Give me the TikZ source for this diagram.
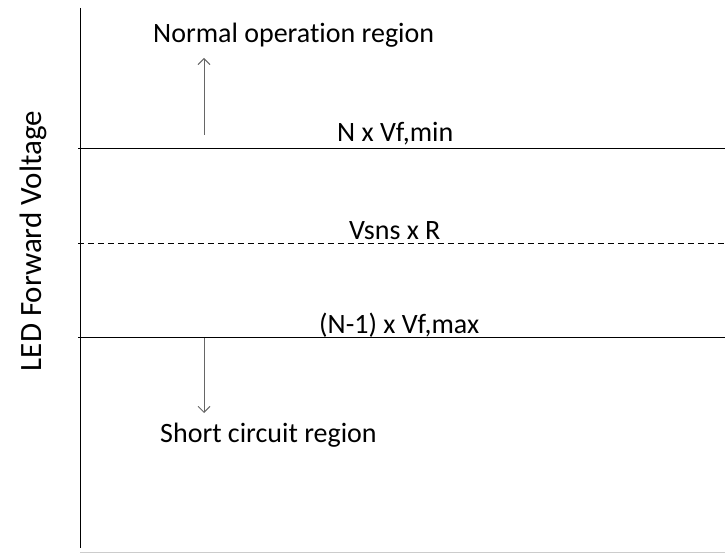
\documentclass[tikz,border=0pt]{standalone}
\usepackage{fontspec}
\setmainfont{Carlito}[Ligatures=NoCommon]
\usetikzlibrary{arrows.meta}
\begin{document}
\begin{tikzpicture}[x=1pt,y=-1pt,
  lvl/.style={line width=0.9pt,black},
  lbl/.style={inner sep=0pt,anchor=base west,font=\fontsize{28}{30}\selectfont},
  arr/.style={draw=gray!80!black,line width=0.9pt,-{Straight Barb[length=6pt,width=12pt]}}]
\useasboundingbox (0,0) rectangle (725,553);
\draw[line width=0.9pt] (80,8) -- (80,548);
\draw[gray!40,line width=0.9pt] (80,552) -- (725,552);
\coordinate (t1) at (78,148); \coordinate (t2) at (725,148);
\coordinate (d1) at (78,243); \coordinate (d2) at (725,243);
\coordinate (b1) at (78,337); \coordinate (b2) at (725,337);
\draw[lvl] (t1) -- (t2);
\draw[lvl,dash pattern=on 6pt off 4pt] (d1) -- (d2);
\draw[lvl] (b1) -- (b2);
\node[lbl] (nor) at (153,43) {Normal operation region};
\node[lbl] (sc) at (160,442) {Short circuit region};
\node[lbl] (nv) at (337,142) {N x Vf,min};
\node[lbl] (vs) at (349,240) {Vsns x R};
\node[lbl] (nm) at (319,333) {(N-1) x Vf,max};
\node[inner sep=0pt,font=\fontsize{31}{33}\selectfont,rotate=90] (ax) at (33,241) {LED Forward Voltage};
\coordinate (ua) at (204,135); \coordinate (ub) at (204,58);
\coordinate (da) at (204,338); \coordinate (db) at (204,413);
\draw[arr] (ua) -- (ub);
\draw[arr] (da) -- (db);
\end{tikzpicture}
\end{document}
